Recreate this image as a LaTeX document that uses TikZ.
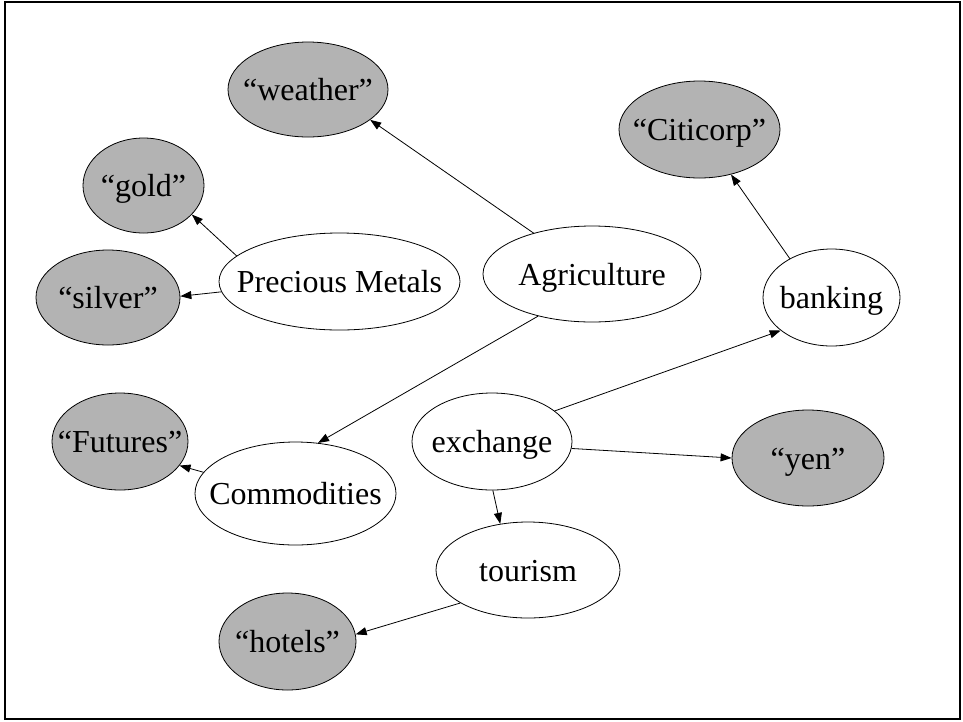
\documentclass[tikz,border=0pt]{standalone}
\usepackage{fontspec}
\setmainfont{Liberation Serif}
\usetikzlibrary{shapes.geometric,arrows.meta}
\definecolor{termgray}{RGB}{179,179,179}
\begin{document}
\begin{tikzpicture}[x=1pt,y=-1pt,
  lbl/.style={font=\fontsize{32}{38}\selectfont, text height=22pt, text depth=0pt, inner sep=0pt},
  concept/.style={ellipse, draw, line width=0.8pt, fill=white, inner sep=0pt},
  term/.style={concept, fill=termgray},
  link/.style={line width=0.8pt, -{Triangle[length=11pt,width=8pt]}}]
\useasboundingbox (0,0) rectangle (963,721);
\draw[line width=2pt] (5,2) rectangle (960,719);

% quoted terms (grey)
\node[term, minimum width=160pt, minimum height=95pt, label={[lbl]center:“weather”}] (weather) at (308,89.5) {};
\node[term, minimum width=121pt, minimum height=95pt, label={[lbl]center:“gold”}] (gold) at (143.5,185.5) {};
\node[term, minimum width=144pt, minimum height=95pt, label={[lbl]center:“silver”}] (silver) at (108,297.5) {};
\node[term, minimum width=161pt, minimum height=97pt, label={[lbl]center:“Citicorp”}] (citicorp) at (699.5,129.5) {};
\node[term, minimum width=136pt, minimum height=97pt, label={[lbl]center:“Futures”}] (futures) at (120,441.5) {};
\node[term, minimum width=152pt, minimum height=96pt, label={[lbl]center:“yen”}] (yen) at (808,458) {};
\node[term, minimum width=137pt, minimum height=97pt, label={[lbl]center:“hotels”}] (hotels) at (287.5,641.5) {};

% concepts (white)
\node[concept, minimum width=241pt, minimum height=97pt, label={[lbl]center:Precious Metals}] (metals) at (339.5,281.5) {};
\node[concept, minimum width=218pt, minimum height=96pt, label={[lbl]center:Agriculture}] (agri) at (592,274) {};
\node[concept, minimum width=137pt, minimum height=97pt, label={[lbl]center:banking}] (banking) at (831.5,297.5) {};
\node[concept, minimum width=201pt, minimum height=103pt, label={[lbl]center:Commodities}] (commod) at (295.5,493.5) {};
\node[concept, minimum width=160pt, minimum height=97pt, label={[lbl]center:exchange}] (exchange) at (492,441.5) {};
\node[concept, minimum width=184pt, minimum height=96pt, label={[lbl]center:tourism}] (tourism) at (528,570) {};

% links
\draw[link] (agri.145.3) -- (weather.-26.5);
\draw[link] (metals.166.6) -- (gold.-31.7);
\draw[link] (metals.-175.9) -- (silver.1.2);
\draw[link] (agri.-142.9) -- (commod.66.9);
\draw[link] (banking.137.7) -- (citicorp.-55.8);
\draw[link] (exchange.26.5) -- (banking.-147.3);
\draw[link] (exchange.-5.6) -- (yen.180);
\draw[link] (exchange.-89.2) -- (tourism.121.2);
\draw[link] (commod.167.6) -- (futures.-22.2);
\draw[link] (tourism.-154.9) -- (hotels.6.8);
\end{tikzpicture}
\end{document}
